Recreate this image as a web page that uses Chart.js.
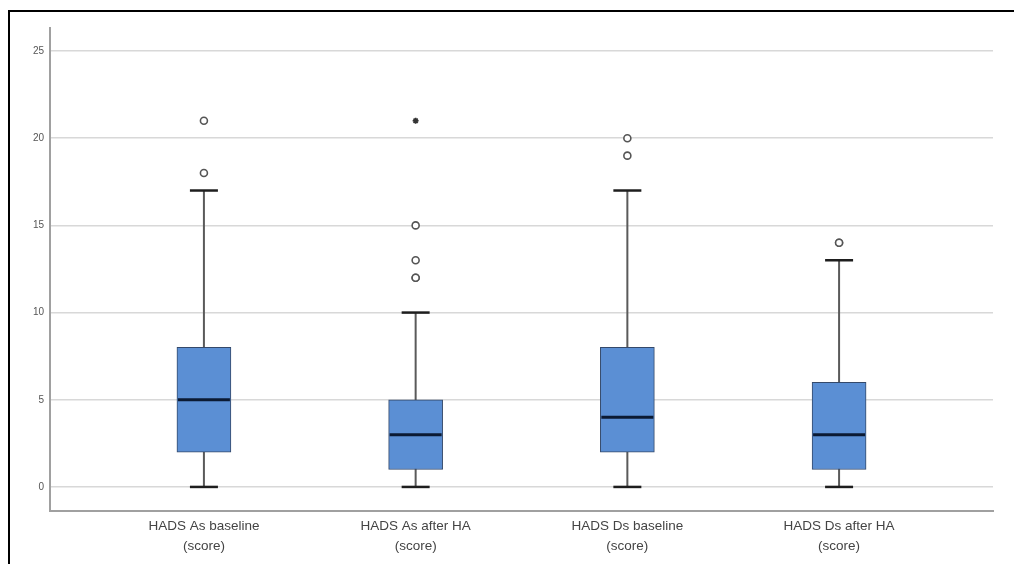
<!DOCTYPE html>
<html>
<head>
<meta charset="utf-8">
<script src="https://cdn.jsdelivr.net/npm/chart.js@4"></script>
<style>
  body { margin: 0; background: #fff; }
  #frame {
    position: absolute; left: 8px; top: 10px;
    width: 1006px; height: 554px;
    border-left: 2px solid #000; border-top: 2px solid #000;
    box-sizing: border-box;
  }
  #wrap { position: absolute; left: 0; top: 0; width: 1004px; height: 552px; }
</style>
</head>
<body>
<div id="frame"><div id="wrap"><canvas id="box_chart"></canvas></div></div>
<script>
// categories
let labels = [
  ["HADS As baseline", "(score)"],
  ["HADS As after HA", "(score)"],
  ["HADS Ds baseline", "(score)"],
  ["HADS Ds after HA", "(score)"]
];
// box plot values
let whiskerLow = [0, 0, 0, 0];
let q1 = [2, 1, 2, 1];
let median = [5, 3, 4, 3];
let q3 = [8, 5, 8, 6];
let whiskerHigh = [17, 10, 17, 13];
// outliers: [category index, value]
let outliers = [[1, 18], [1, 21], [2, 12], [2, 12], [2, 13], [2, 15], [3, 19], [3, 20], [4, 14], [4, 14]];
let extremes = [[2, 21]];
let yTicks = [0, 5, 10, 15, 20, 25];

let boxes = labels.map((l, i) => ({ x: i + 1, y: [q1[i], q3[i]] }));

// whiskers behind boxes, medians on top
let boxParts = {
  id: "boxParts",
  beforeDatasetsDraw(chart) {
    let c = chart.ctx, x = chart.scales.x, y = chart.scales.y;
    c.save();
    for (let i = 0; i < labels.length; i++) {
      let px = x.getPixelForValue(i + 1);
      c.strokeStyle = "#5a5a5a";
      c.lineWidth = 2;
      c.beginPath();
      c.moveTo(px, y.getPixelForValue(whiskerLow[i]));
      c.lineTo(px, y.getPixelForValue(whiskerHigh[i]));
      c.stroke();
      c.strokeStyle = "#1e1e1e";
      c.lineWidth = 2.5;
      for (let v of [whiskerLow[i], whiskerHigh[i]]) {
        let py = y.getPixelForValue(v);
        c.beginPath();
        c.moveTo(px - 14, py);
        c.lineTo(px + 14, py);
        c.stroke();
      }
    }
    c.restore();
  },
  afterDatasetsDraw(chart) {
    let c = chart.ctx, x = chart.scales.x, y = chart.scales.y;
    c.save();
    c.strokeStyle = "#0b1a33";
    c.lineWidth = 3;
    for (let i = 0; i < labels.length; i++) {
      let px = x.getPixelForValue(i + 1);
      let py = y.getPixelForValue(median[i]);
      c.beginPath();
      c.moveTo(px - 26, py);
      c.lineTo(px + 26, py);
      c.stroke();
    }
    c.restore();
  }
};

let ctx = document.getElementById("box_chart");
let boxChart = new Chart(ctx, {
  data: {
    datasets: [
      {
        type: "scatter",
        label: "outliers",
        data: outliers.map(o => ({ x: o[0], y: o[1] })),
        pointStyle: "circle",
        pointRadius: 3.5,
        pointBackgroundColor: "#fff",
        pointBorderColor: "#555",
        pointBorderWidth: 1.6,
        order: 0
      },
      {
        type: "scatter",
        label: "extremes",
        data: extremes.map(o => ({ x: o[0], y: o[1] })),
        pointStyle: "star",
        pointRadius: 3,
        pointBorderColor: "#333",
        pointBorderWidth: 1.6,
        order: 0
      },
      {
        type: "bar",
        label: "boxes",
        data: boxes,
        backgroundColor: "#5b8fd4",
        borderColor: "#34496a",
        borderWidth: 1,
        borderSkipped: false,
        barThickness: 54,
        order: 1
      }
    ]
  },
  options: {
    responsive: true,
    maintainAspectRatio: false,
    animation: false,
    layout: { padding: { top: 16, right: 21, left: 0, bottom: 0 } },
    plugins: { legend: { display: false }, tooltip: { enabled: false } },
    scales: {
      x: {
        type: "linear",
        offset: false,
        min: 0.273,
        max: 4.727,
        afterBuildTicks: s => { s.ticks = labels.map((l, i) => ({ value: i + 1 })); },
        afterFit: s => { s.height = 53; },
        grid: { display: false, drawTicks: false, offset: false },
        border: { display: true, color: "#a0a0a0", width: 2 },
        ticks: {
          padding: 5,
          color: "#444",
          font: { family: "Liberation Sans", size: 13.5, lineHeight: 1.5 },
          callback: v => labels[Math.round(v) - 1]
        }
      },
      y: {
        type: "linear",
        min: -1.38,
        max: 26.32,
        afterBuildTicks: s => { s.ticks = yTicks.map(v => ({ value: v })); },
        afterFit: s => { s.width = 40; },
        grid: { color: "#d8d8d8", lineWidth: 1.5, drawTicks: false },
        border: { display: true, color: "#a0a0a0", width: 2 },
        ticks: {
          padding: 6,
          color: "#555",
          font: { family: "Liberation Sans", size: 10 }
        }
      }
    }
  },
  plugins: [boxParts]
});
</script>
</body>
</html>
